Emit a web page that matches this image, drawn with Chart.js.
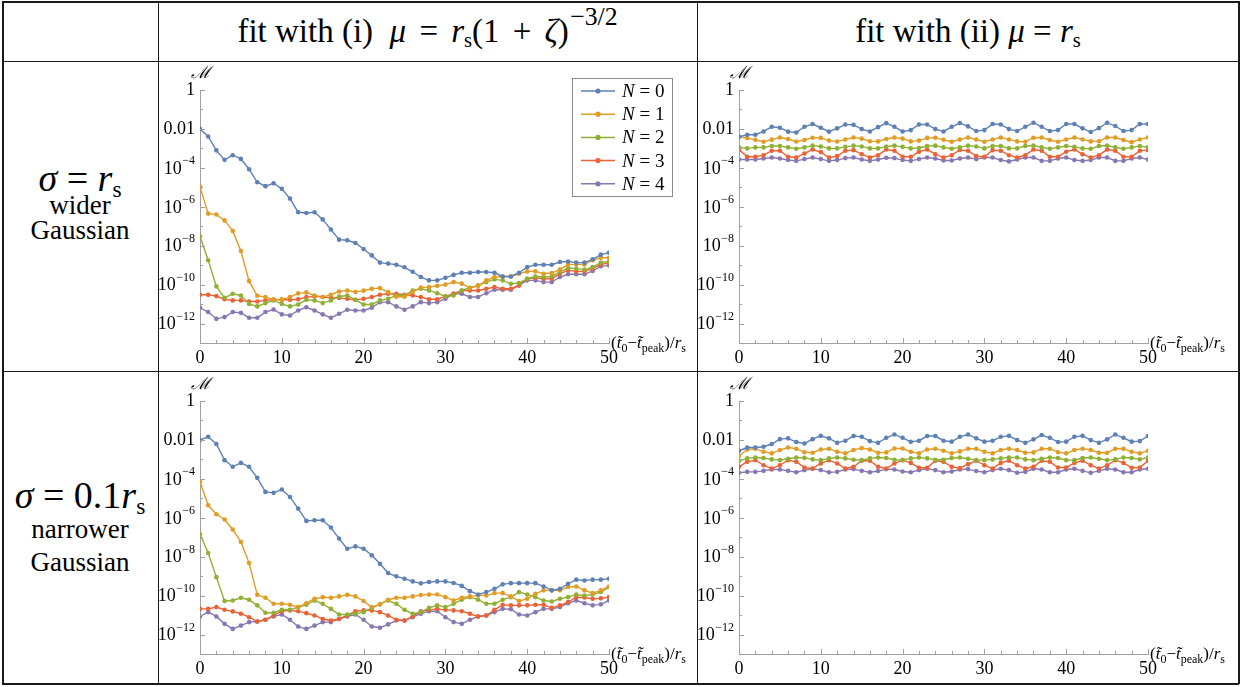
<!DOCTYPE html>
<html>
<head>
<meta charset="utf-8">
<script src="https://cdn.jsdelivr.net/npm/chart.js@4.4.1/dist/chart.umd.min.js"></script>
<style>
  body { margin: 0; background: #fff; }
  #page { position: relative; width: 1251px; height: 687px; font-family: "Liberation Serif", "Times New Roman", serif; color: #000; }
  .hl, .vl { position: absolute; background: #1a1a1a; }
  .hl { height: 1.5px; left: 2px; width: 1237px; }
  .vl { width: 1.5px; top: 1px; height: 683px; }
  .txt { position: absolute; text-align: center; white-space: nowrap; }
  .head { top: 2px; height: 59px; line-height: 59px; font-size: 33px; }
  .big { font-size: 38px; height: 44px; line-height: 44px; }
  .small { font-size: 27px; height: 30px; line-height: 30px; }
  .op { margin: 0 0.4em; }
  .gap { margin-left: 0.25em; }
  sub { font-size: 0.62em; vertical-align: -0.25em; line-height: 0; }
  sup { font-size: 0.78em; vertical-align: 0.65em; line-height: 0; margin-left: 0.05em; }
  canvas { position: absolute; }
</style>
</head>
<body>
<div id="page">
  <div class="hl" style="top:1px"></div>
  <div class="hl" style="top:60.5px"></div>
  <div class="hl" style="top:370.5px"></div>
  <div class="hl" style="top:683px"></div>
  <div class="vl" style="left:2px"></div>
  <div class="vl" style="left:157.5px"></div>
  <div class="vl" style="left:696.5px"></div>
  <div class="vl" style="left:1238px"></div>

  <div class="txt head" style="left:158px; width:539px;">fit with (i) <i class="gap">μ</i><span class="op">=</span><i>r</i><sub>s</sub>(1<span class="op">+</span><i>ζ</i>)<sup>−3/2</sup></div>
  <div class="txt head" style="left:697px; width:542px;">fit with (ii) <i>μ</i> = <i>r</i><sub>s</sub></div>

  <div class="txt big" style="left:2px; width:156px; top:156px;"><i>σ</i> = <i>r</i><sub>s</sub></div>
  <div class="txt small" style="left:2px; width:156px; top:190px;">wider</div>
  <div class="txt small" style="left:2px; width:156px; top:215px;">Gaussian</div>

  <div class="txt big" style="left:2px; width:156px; top:473px;"><i>σ</i> = 0.1<i>r</i><sub>s</sub></div>
  <div class="txt small" style="left:2px; width:156px; top:514px;">narrower</div>
  <div class="txt small" style="left:2px; width:156px; top:547px;">Gaussian</div>

  <canvas id="chartTL" width="538" height="308" style="left:159px; top:62px;"></canvas>
  <canvas id="chartTR" width="540" height="308" style="left:698px; top:62px;"></canvas>
  <canvas id="chartBL" width="538" height="308" style="left:159px; top:373px;"></canvas>
  <canvas id="chartBR" width="540" height="308" style="left:698px; top:373px;"></canvas>
</div>

<script>
// x positions (t0 - tpeak)/rs
const tValues = [0,1,2,3,4,5,6,7,8,9,10,11,12,13,14,15,16,17,18,19,20,21,22,23,24,25,
    26,27,28,29,30,31,32,33,34,35,36,37,38,39,40,41,42,43,44,45,46,47,48,49,50];

const seriesLabels = ['0', '1', '2', '3', '4'];   // N = ...
const seriesColors = ['#5e81b5', '#e19c24', '#8fb032', '#eb6235', '#8778b3'];

// axis ticks
const yLabelExponents = [0, -2, -4, -6, -8, -10, -12];
const yTickExponents = [0, -1, -2, -3, -4, -5, -6, -7, -8, -9, -10, -11, -12, -13];
const xTickLabels = [0, 10, 20, 30, 40, 50];
const xMinorTicks = [2, 4, 6, 8, 12, 14, 16, 18, 22, 24, 26, 28, 32, 34, 36, 38, 42, 44, 46, 48];

// values are log10(M)

// fit (i), sigma = rs
const tlN0 = [-2.0,-2.39,-3.1,-3.59,-3.35,-3.54,-4.07,-4.74,-4.94,-4.79,-5.08,-5.58,-6.28,-6.32,-6.28,-6.65,-7.17,-7.69,-7.72,-7.86,
    -8.17,-8.5,-8.87,-8.92,-8.98,-9.11,-9.34,-9.61,-9.78,-9.78,-9.65,-9.5,-9.39,-9.39,-9.35,-9.35,-9.39,-9.58,-9.58,-9.39,
    -9.1,-8.98,-8.98,-8.98,-8.84,-8.81,-8.87,-8.87,-8.7,-8.46,-8.36];
const tlN1 = [-4.98,-6.35,-6.4,-6.7,-7.24,-8.27,-9.82,-10.57,-10.64,-10.76,-10.76,-10.64,-10.45,-10.4,-10.56,-10.64,-10.52,-10.35,-10.3,-10.38,
    -10.31,-10.21,-10.18,-10.38,-10.62,-10.62,-10.38,-10.15,-10.13,-10.06,-10.0,-9.87,-9.95,-10.18,-10.06,-9.78,-9.61,-9.58,-9.58,-9.44,
    -9.32,-9.32,-9.44,-9.41,-9.23,-8.96,-8.96,-8.96,-8.75,-8.62,-8.62];
const tlN2 = [-7.52,-8.75,-10.09,-10.68,-10.47,-10.56,-10.99,-11.12,-10.95,-10.81,-10.99,-11.12,-11.02,-10.78,-10.81,-10.95,-10.81,-10.61,-10.56,-10.78,
    -11.02,-11.02,-10.81,-10.73,-10.56,-10.56,-10.3,-10.21,-10.3,-10.44,-10.61,-10.56,-10.3,-10.16,-10.04,-9.87,-9.73,-9.78,-9.96,-9.92,
    -9.7,-9.58,-9.61,-9.58,-9.35,-9.15,-9.18,-9.23,-9.1,-8.87,-8.81];
const tlN3 = [-10.52,-10.52,-10.59,-10.75,-10.81,-10.81,-10.87,-10.87,-10.81,-10.78,-10.78,-10.78,-10.75,-10.64,-10.6,-10.64,-10.68,-10.68,-10.73,-10.78,
    -10.73,-10.64,-10.52,-10.47,-10.47,-10.52,-10.56,-10.64,-10.75,-10.75,-10.6,-10.47,-10.3,-10.3,-10.3,-10.21,-10.13,-10.21,-10.21,-10.04,
    -9.7,-9.65,-9.7,-9.7,-9.44,-9.27,-9.32,-9.32,-9.18,-8.96,-8.89];
const tlN4 = [-11.19,-11.41,-11.76,-11.67,-11.41,-11.45,-11.7,-11.7,-11.41,-11.28,-11.53,-11.59,-11.33,-11.16,-11.33,-11.53,-11.7,-11.5,-11.29,-11.33,
    -11.33,-11.19,-10.9,-10.9,-11.12,-11.29,-11.12,-10.9,-10.95,-10.9,-10.73,-10.47,-10.47,-10.64,-10.64,-10.44,-10.26,-10.26,-10.26,-10.04,
    -9.78,-9.78,-9.87,-9.87,-9.61,-9.47,-9.47,-9.47,-9.3,-9.06,-9.01];

// fit (ii), sigma = rs
const trN0 = [-2.4,-2.3,-2.3,-2.13,-1.89,-1.94,-2.14,-2.18,-1.89,-1.75,-1.94,-2.14,-1.97,-1.77,-1.79,-2.01,-2.13,-1.91,-1.7,-1.89,
    -2.13,-2.06,-1.77,-1.77,-2.01,-2.13,-1.89,-1.7,-1.87,-2.11,-2.06,-1.75,-1.77,-2.01,-2.11,-1.89,-1.68,-1.89,-2.11,-2.06,
    -1.75,-1.75,-1.97,-2.16,-1.96,-1.68,-1.85,-2.11,-2.06,-1.75,-1.75];
const trN1 = [-2.4,-2.47,-2.56,-2.66,-2.55,-2.44,-2.52,-2.65,-2.57,-2.45,-2.46,-2.6,-2.65,-2.54,-2.44,-2.5,-2.63,-2.64,-2.52,-2.44,
    -2.5,-2.64,-2.6,-2.46,-2.45,-2.56,-2.66,-2.54,-2.44,-2.54,-2.66,-2.54,-2.44,-2.54,-2.64,-2.66,-2.45,-2.44,-2.57,-2.66,
    -2.54,-2.44,-2.54,-2.64,-2.63,-2.44,-2.44,-2.57,-2.68,-2.54,-2.44];
const trN2 = [-2.95,-3.0,-2.95,-2.95,-2.88,-2.88,-2.95,-3.02,-2.95,-2.86,-2.9,-3.0,-3.0,-2.92,-2.86,-2.9,-3.0,-3.0,-2.9,-2.86,
    -2.92,-3.0,-2.98,-2.88,-2.86,-2.95,-3.02,-2.95,-2.86,-2.9,-3.0,-2.88,-2.88,-3.0,-3.0,-2.88,-2.85,-2.95,-3.02,-2.95,
    -2.88,-2.92,-3.0,-3.02,-2.88,-2.85,-2.95,-3.02,-2.95,-2.88,-2.95];
const trN3 = [-3.06,-3.43,-3.43,-3.35,-3.12,-3.12,-3.43,-3.47,-3.26,-3.06,-3.19,-3.47,-3.4,-3.12,-3.09,-3.3,-3.47,-3.35,-3.06,-3.12,
    -3.43,-3.43,-3.17,-3.06,-3.3,-3.47,-3.35,-3.08,-3.12,-3.4,-3.43,-3.09,-3.12,-3.35,-3.47,-3.35,-3.06,-3.12,-3.43,-3.43,
    -3.17,-3.06,-3.3,-3.47,-3.35,-3.06,-3.12,-3.43,-3.43,-3.12,-3.09];
const trN4 = [-3.57,-3.57,-3.57,-3.52,-3.47,-3.52,-3.6,-3.64,-3.55,-3.47,-3.55,-3.64,-3.6,-3.5,-3.47,-3.57,-3.64,-3.57,-3.48,-3.5,
    -3.6,-3.64,-3.55,-3.47,-3.52,-3.62,-3.62,-3.52,-3.47,-3.55,-3.47,-3.47,-3.6,-3.67,-3.57,-3.47,-3.47,-3.64,-3.64,-3.52,
    -3.47,-3.6,-3.64,-3.6,-3.47,-3.47,-3.64,-3.64,-3.52,-3.47,-3.57];

// fit (i), sigma = 0.1 rs
const blN0 = [-2.01,-1.84,-2.21,-3.04,-3.38,-3.18,-3.38,-3.95,-4.67,-4.72,-4.55,-4.93,-5.53,-6.16,-6.13,-6.13,-6.5,-7.07,-7.59,-7.47,
    -7.59,-7.93,-8.36,-8.84,-9.01,-9.13,-9.27,-9.37,-9.3,-9.27,-9.27,-9.35,-9.5,-9.77,-9.94,-9.82,-9.65,-9.42,-9.36,-9.36,
    -9.36,-9.36,-9.53,-9.73,-9.65,-9.39,-9.18,-9.22,-9.18,-9.18,-9.13];
const blN1 = [-4.15,-5.36,-5.82,-6.09,-6.6,-7.24,-8.33,-9.96,-10.11,-10.42,-10.42,-10.47,-10.59,-10.39,-10.16,-10.08,-10.11,-10.04,-9.96,-10.04,
    -10.28,-10.59,-10.45,-10.21,-10.11,-10.11,-10.04,-9.97,-9.94,-9.94,-10.08,-10.25,-10.11,-10.04,-9.99,-9.99,-9.87,-9.87,-10.04,-10.28,
    -10.16,-9.91,-9.73,-9.73,-9.73,-9.56,-9.53,-9.73,-9.87,-9.73,-9.53];
const blN2 = [-6.85,-7.81,-9.05,-10.28,-10.25,-10.11,-10.21,-10.5,-10.88,-10.88,-10.73,-10.73,-10.59,-10.47,-10.25,-10.42,-10.68,-10.97,-10.97,-10.93,
    -10.85,-10.63,-10.45,-10.25,-10.42,-10.73,-10.93,-10.85,-10.63,-10.5,-10.59,-10.42,-10.21,-10.08,-10.21,-10.42,-10.42,-10.21,-10.08,-9.82,
    -9.94,-10.08,-10.25,-10.3,-10.16,-10.08,-9.94,-10.0,-9.94,-9.82,-9.56];
const blN3 = [-10.68,-10.68,-10.59,-10.73,-10.81,-10.93,-11.11,-11.33,-11.24,-11.02,-10.8,-10.76,-10.8,-10.9,-11.02,-11.2,-11.28,-11.2,-11.02,-10.8,
    -10.76,-10.76,-10.85,-11.02,-11.24,-11.28,-11.07,-10.8,-10.73,-10.68,-10.73,-10.76,-10.8,-10.93,-11.07,-11.02,-10.73,-10.47,-10.5,-10.5,
    -10.5,-10.47,-10.47,-10.63,-10.5,-10.33,-10.08,-10.1,-10.16,-10.14,-10.08];
const blN4 = [-11.07,-10.85,-11.07,-11.45,-11.71,-11.54,-11.36,-11.33,-11.24,-11.07,-10.97,-11.24,-11.59,-11.71,-11.54,-11.36,-11.36,-11.2,-11.07,-10.97,
    -11.24,-11.59,-11.65,-11.48,-11.28,-11.28,-11.11,-10.93,-10.8,-10.8,-11.11,-11.36,-11.45,-11.24,-11.07,-11.02,-10.85,-10.68,-10.7,-10.97,
    -11.02,-10.85,-10.68,-10.68,-10.59,-10.39,-10.25,-10.39,-10.5,-10.45,-10.25];

// fit (ii), sigma = 0.1 rs
const brN0 = [-2.56,-2.39,-2.39,-2.35,-2.21,-1.96,-1.92,-2.11,-2.18,-1.96,-1.79,-1.92,-2.15,-2.04,-1.8,-1.84,-2.06,-2.15,-1.89,-1.72,
    -1.89,-2.1,-2.04,-1.8,-1.8,-2.04,-2.09,-1.84,-1.72,-1.92,-2.09,-2.04,-1.84,-1.79,-2.01,-2.15,-1.97,-1.75,-1.89,-2.11,
    -2.09,-1.84,-1.79,-2.01,-2.15,-1.97,-1.72,-1.89,-2.09,-2.06,-1.8];
const brN1 = [-2.83,-2.49,-2.45,-2.61,-2.69,-2.52,-2.39,-2.45,-2.63,-2.66,-2.49,-2.45,-2.61,-2.69,-2.52,-2.42,-2.49,-2.66,-2.64,-2.44,
    -2.44,-2.61,-2.69,-2.49,-2.45,-2.56,-2.69,-2.59,-2.45,-2.45,-2.61,-2.69,-2.52,-2.45,-2.52,-2.66,-2.64,-2.45,-2.45,-2.63,
    -2.69,-2.52,-2.45,-2.52,-2.66,-2.66,-2.45,-2.45,-2.61,-2.69,-2.56];
const brN2 = [-3.07,-2.95,-2.9,-2.93,-3.0,-3.04,-2.97,-2.9,-2.92,-3.0,-3.04,-2.95,-2.9,-2.95,-3.02,-3.04,-2.95,-2.9,-2.93,-3.02,
    -3.04,-2.95,-2.9,-2.95,-3.02,-3.02,-2.93,-2.9,-2.97,-3.04,-3.04,-3.0,-2.95,-2.9,-2.9,-3.0,-3.04,-2.97,-2.9,-2.93,
    -3.04,-3.04,-2.93,-2.9,-2.97,-3.04,-3.0,-2.9,-2.93,-3.0,-2.9];
const brN3 = [-3.38,-3.12,-3.04,-3.3,-3.47,-3.3,-3.04,-3.12,-3.42,-3.47,-3.21,-3.04,-3.21,-3.47,-3.38,-3.07,-3.07,-3.38,-3.47,-3.21,
    -3.04,-3.18,-3.43,-3.43,-3.07,-3.12,-3.38,-3.45,-3.25,-3.07,-3.3,-3.47,-3.18,-3.07,-3.3,-3.47,-3.38,-3.07,-3.12,-3.42,
    -3.42,-3.18,-3.07,-3.3,-3.47,-3.3,-3.04,-3.18,-3.43,-3.42,-3.07];
const brN4 = [-3.69,-3.64,-3.64,-3.59,-3.52,-3.52,-3.59,-3.66,-3.55,-3.48,-3.55,-3.66,-3.64,-3.52,-3.5,-3.59,-3.66,-3.6,-3.5,-3.52,
    -3.62,-3.66,-3.55,-3.48,-3.55,-3.66,-3.62,-3.52,-3.5,-3.6,-3.66,-3.55,-3.48,-3.55,-3.69,-3.64,-3.48,-3.52,-3.66,-3.66,
    -3.52,-3.48,-3.59,-3.69,-3.59,-3.48,-3.52,-3.66,-3.66,-3.52,-3.48];

const SERIF = '"Liberation Serif", "Times New Roman", serif';
const AXIS_COLOR = '#a0a0a0';

// inner ticks, y labels with superscripts, axis titles, legend
const decorPlugin = {
    id: 'decor',
    afterDatasetsDraw(chart, args, opts) {
        const ctx = chart.ctx;
        const xs = chart.scales.x, ys = chart.scales.y;
        const area = chart.chartArea;
        ctx.save();

        // ticks pointing into the plot
        ctx.strokeStyle = AXIS_COLOR;
        ctx.lineWidth = 1;
        yTickExponents.forEach(e => {
            const py = Math.round(ys.getPixelForValue(10 ** e)) + 0.5;
            const len = e % 2 === 0 ? 5 : 3;
            ctx.beginPath(); ctx.moveTo(area.left, py); ctx.lineTo(area.left + len, py); ctx.stroke();
        });
        xTickLabels.concat(xMinorTicks).forEach(t => {
            const px = Math.round(xs.getPixelForValue(t)) + 0.5;
            const len = t % 10 === 0 ? 5 : 3;
            ctx.beginPath(); ctx.moveTo(px, area.bottom); ctx.lineTo(px, area.bottom - len); ctx.stroke();
        });

        // y labels
        ctx.fillStyle = '#000';
        ctx.textBaseline = 'middle';
        yLabelExponents.forEach(e => {
            const py = ys.getPixelForValue(10 ** e);
            const rx = area.left - 5;
            ctx.font = '18px ' + SERIF;
            if (e === 0 || e === -2) {
                ctx.textAlign = 'right';
                ctx.fillText(e === 0 ? '1' : '0.01', rx, py);
            } else {
                const sup = '\u2212' + (-e);
                ctx.font = '12px ' + SERIF;
                const w = ctx.measureText(sup).width;
                ctx.textAlign = 'left';
                ctx.fillText(sup, rx - w, py - 7);
                ctx.font = '18px ' + SERIF;
                ctx.textAlign = 'right';
                ctx.fillText('10', rx - w - 0.5, py + 1);
            }
        });

        // y title
        ctx.textAlign = 'center';
        ctx.font = 'italic 17px "DejaVu Serif", serif';
        ctx.fillText('\u2133', area.left + 1, area.top - 16);

        // x title
        const parts = [
            ['(', 'n'], ['t\u0303', 'i'], ['0', 's'], ['\u2212', 'n'], ['t\u0303', 'i'],
            ['peak', 's'], [')/', 'n'], ['r', 'i'], ['s', 's']
        ];
        let cx = area.right + 2;
        const base = area.bottom + 5;
        ctx.textAlign = 'left';
        ctx.textBaseline = 'alphabetic';
        parts.forEach(([txt, kind]) => {
            if (kind === 's') {
                ctx.font = '12px ' + SERIF;
                ctx.fillText(txt, cx, base + 4);
            } else {
                ctx.font = (kind === 'i' ? 'italic ' : '') + '17px ' + SERIF;
                ctx.fillText(txt, cx, base);
            }
            cx += ctx.measureText(txt).width;
        });

        // legend
        if (opts.showLegend) {
            const bx = area.right - 37, by = area.top - 12, bw = 100, bh = 118;
            ctx.strokeStyle = '#8a8a8a';
            ctx.lineWidth = 1;
            ctx.strokeRect(bx + 0.5, by + 0.5, bw, bh);
            chart.data.datasets.forEach((ds, i) => {
                const ly = by + 13 + i * 23.2;
                ctx.strokeStyle = ds.borderColor;
                ctx.lineWidth = 1.5;
                ctx.beginPath(); ctx.moveTo(bx + 9, ly); ctx.lineTo(bx + 43, ly); ctx.stroke();
                ctx.fillStyle = ds.borderColor;
                ctx.beginPath(); ctx.arc(bx + 26, ly, 2.6, 0, Math.PI * 2); ctx.fill();
                ctx.fillStyle = '#000';
                ctx.textBaseline = 'middle';
                ctx.font = 'italic 19px ' + SERIF;
                ctx.fillText('N', bx + 50, ly + 1);
                const nw = ctx.measureText('N').width;
                ctx.font = '19px ' + SERIF;
                ctx.fillText(' = ' + seriesLabels[i], bx + 50 + nw, ly + 1);
            });
        }
        ctx.restore();
    }
};

function makeChart(id, logSeries, padRight, showLegend) {
    const datasets = logSeries.map((logs, i) => ({
        label: 'N = ' + seriesLabels[i],
        data: tValues.map((t, k) => ({ x: t, y: 10 ** logs[k] })),
        borderColor: seriesColors[i],
        backgroundColor: seriesColors[i],
        pointBackgroundColor: seriesColors[i],
        borderWidth: 1.4,
        pointRadius: 2.3,
        pointBorderWidth: 0,
        tension: 0
    }));

    new Chart(document.getElementById(id), {
        type: 'line',
        data: { datasets },
        plugins: [decorPlugin],
        options: {
            responsive: false,
            animation: false,
            layout: { padding: { top: 28, right: padRight, left: 0, bottom: 0 } },
            plugins: {
                legend: { display: false },
                tooltip: { enabled: false },
                decor: { showLegend }
            },
            scales: {
                x: {
                    type: 'linear', min: 0, max: 50,
                    grid: { display: false, drawTicks: false },
                    border: { display: true, color: AXIS_COLOR, width: 1 },
                    ticks: { stepSize: 10, padding: 4, color: '#000', maxRotation: 0, autoSkip: false,
                             font: { family: SERIF, size: 18 } },
                    afterFit: s => { s.height = 27; }
                },
                y: {
                    type: 'logarithmic', min: 1e-13, max: 1,
                    grid: { display: false, drawTicks: false },
                    border: { display: true, color: AXIS_COLOR, width: 1 },
                    ticks: { display: false },
                    afterFit: s => { s.width = 41; }
                }
            }
        }
    });
}

makeChart('chartTL', [tlN0, tlN1, tlN2, tlN3, tlN4], 88, true);
makeChart('chartTR', [trN0, trN1, trN2, trN3, trN4], 90, false);
makeChart('chartBL', [blN0, blN1, blN2, blN3, blN4], 88, false);
makeChart('chartBR', [brN0, brN1, brN2, brN3, brN4], 90, false);
</script>
</body>
</html>
